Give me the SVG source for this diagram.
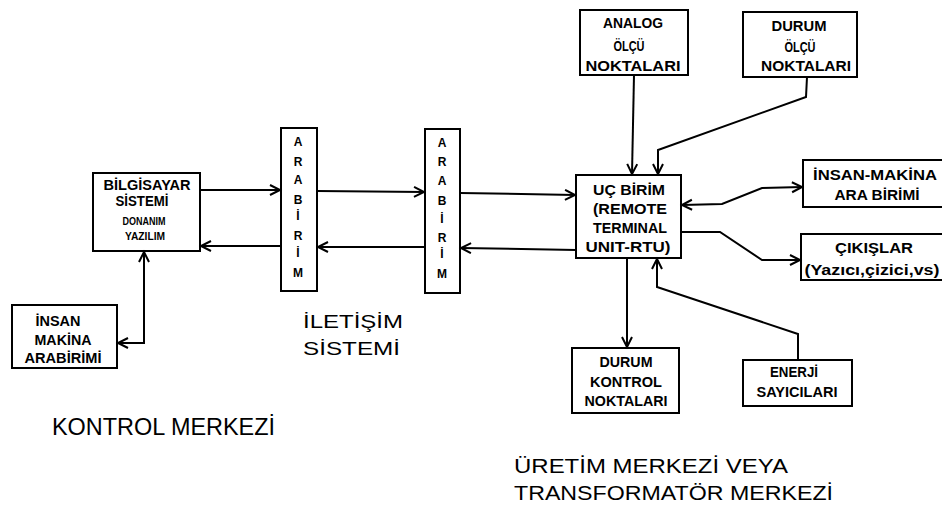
<svg xmlns="http://www.w3.org/2000/svg" width="942" height="511" viewBox="0 0 942 511">
<style>
.box{fill:#fff;stroke:#000;stroke-width:2}
.bt{font-family:"Liberation Sans",Arial,sans-serif;font-weight:bold;font-size:14px;fill:#000;text-anchor:middle}
.st{font-size:10px}
.lt{font-family:"Liberation Sans",Arial,sans-serif;font-weight:bold;font-size:12px;fill:#000;text-anchor:middle}
.big{font-family:"Liberation Sans",Arial,sans-serif;fill:#000}
.c{fill:none;stroke:#000;stroke-width:2}
</style>
<defs>
<marker id="ah" markerUnits="userSpaceOnUse" markerWidth="14" markerHeight="14" refX="11" refY="6" orient="auto-start-reverse">
<path d="M1,1 L11,6 L1,11" fill="none" stroke="#000" stroke-width="2"/>
</marker>
</defs>
<rect width="942" height="511" fill="#fff"/>

<g id="bilgisayar">
<rect class="box" x="93" y="173" width="107" height="78"/>
<text class="bt" x="147" y="190" textLength="87" lengthAdjust="spacingAndGlyphs">BİLGİSAYAR</text>
<text class="bt" x="142" y="206" textLength="53" lengthAdjust="spacingAndGlyphs">SİSTEMİ</text>
<text class="bt st" x="144" y="225" textLength="43" lengthAdjust="spacingAndGlyphs">DONANIM</text>
<text class="bt st" x="145" y="240" textLength="40" lengthAdjust="spacingAndGlyphs">YAZILIM</text>
</g>

<g id="insan-makina-kontrol">
<rect class="box" x="12" y="305" width="105" height="63"/>
<text class="bt" x="58" y="326" textLength="45" lengthAdjust="spacingAndGlyphs">İNSAN</text>
<text class="bt" x="63" y="345" textLength="57" lengthAdjust="spacingAndGlyphs">MAKİNA</text>
<text class="bt" x="63" y="363" textLength="77" lengthAdjust="spacingAndGlyphs">ARABİRİMİ</text>
</g>

<g id="arabirim1">
<rect class="box" x="281" y="128" width="36" height="163"/>
<text class="lt" x="298" y="146">A</text>
<text class="lt" x="298" y="166">R</text>
<text class="lt" x="298" y="184">A</text>
<text class="lt" x="298" y="204">B</text>
<text class="lt" x="298" y="220">İ</text>
<text class="lt" x="298" y="240">R</text>
<text class="lt" x="298" y="257">İ</text>
<text class="lt" x="298" y="277">M</text>
</g>

<g id="arabirim2">
<rect class="box" x="425" y="129" width="35" height="164"/>
<text class="lt" x="442" y="147">A</text>
<text class="lt" x="442" y="166">R</text>
<text class="lt" x="442" y="185">A</text>
<text class="lt" x="442" y="205">B</text>
<text class="lt" x="442" y="223">İ</text>
<text class="lt" x="442" y="242">R</text>
<text class="lt" x="442" y="258">İ</text>
<text class="lt" x="442" y="278">M</text>
</g>

<g id="rtu">
<rect class="box" x="576" y="175" width="105" height="83"/>
<text class="bt" x="629" y="195" textLength="72" lengthAdjust="spacingAndGlyphs">UÇ BİRİM</text>
<text class="bt" x="630" y="214" textLength="74" lengthAdjust="spacingAndGlyphs">(REMOTE</text>
<text class="bt" x="630" y="233" textLength="74" lengthAdjust="spacingAndGlyphs">TERMINAL</text>
<text class="bt" x="628" y="252" textLength="85" lengthAdjust="spacingAndGlyphs">UNIT-RTU)</text>
</g>

<g id="analog">
<rect class="box" x="580" y="10" width="108" height="65"/>
<text class="bt" x="633" y="28" textLength="60" lengthAdjust="spacingAndGlyphs">ANALOG</text>
<text class="bt" x="629" y="51" textLength="31" lengthAdjust="spacingAndGlyphs" style="font-size:15px">ÖLÇÜ</text>
<text class="bt" x="633" y="71" textLength="95" lengthAdjust="spacingAndGlyphs">NOKTALARI</text>
</g>

<g id="durum-olcu">
<rect class="box" x="743" y="12" width="114" height="65"/>
<text class="bt" x="799" y="31" textLength="55" lengthAdjust="spacingAndGlyphs">DURUM</text>
<text class="bt" x="800" y="52" textLength="31" lengthAdjust="spacingAndGlyphs" style="font-size:15px">ÖLÇÜ</text>
<text class="bt" x="806" y="71" textLength="90" lengthAdjust="spacingAndGlyphs">NOKTALARI</text>
</g>

<g id="insan-makina-rtu">
<rect class="box" x="803" y="160" width="150" height="47"/>
<text class="bt" x="875" y="180" textLength="124" lengthAdjust="spacingAndGlyphs">İNSAN-MAKİNA</text>
<text class="bt" x="877" y="200" textLength="85" lengthAdjust="spacingAndGlyphs">ARA BİRİMİ</text>
</g>

<g id="cikislar">
<rect class="box" x="801" y="234" width="152" height="46"/>
<text class="bt" x="874" y="253" textLength="78" lengthAdjust="spacingAndGlyphs">ÇIKIŞLAR</text>
<text class="bt" x="872" y="275" textLength="135" lengthAdjust="spacingAndGlyphs">(Yazıcı,çizici,vs)</text>
</g>

<g id="durum-kontrol">
<rect class="box" x="572" y="348" width="107" height="65"/>
<text class="bt" x="626" y="367" textLength="53" lengthAdjust="spacingAndGlyphs">DURUM</text>
<text class="bt" x="626" y="387" textLength="72" lengthAdjust="spacingAndGlyphs">KONTROL</text>
<text class="bt" x="626" y="406" textLength="83" lengthAdjust="spacingAndGlyphs">NOKTALARI</text>
</g>

<g id="enerji">
<rect class="box" x="743" y="360" width="109" height="46"/>
<text class="bt" x="794" y="377" textLength="48" lengthAdjust="spacingAndGlyphs">ENERJİ</text>
<text class="bt" x="797" y="397" textLength="81" lengthAdjust="spacingAndGlyphs">SAYICILARI</text>
</g>

<g id="connectors">
<path class="c" d="M200,190 L280,190" marker-end="url(#ah)"/>
<path class="c" d="M281,246 L201,246" marker-end="url(#ah)"/>
<path class="c" d="M144,252 L144,343 L118,343" marker-start="url(#ah)" marker-end="url(#ah)"/>
<path class="c" d="M317,191 L424,192" marker-end="url(#ah)"/>
<path class="c" d="M425,247 L318,247" marker-end="url(#ah)"/>
<path class="c" d="M460,193 L575,195" marker-end="url(#ah)"/>
<path class="c" d="M576,250 L461,248" marker-end="url(#ah)"/>
<path class="c" d="M634,75 L632,174" marker-end="url(#ah)"/>
<path class="c" d="M807,77 L806,97 L658,150 L658,174" marker-end="url(#ah)"/>
<path class="c" d="M682,205 L722,204 L762,188 L802,187" marker-start="url(#ah)" marker-end="url(#ah)"/>
<path class="c" d="M681,232 L720,232 L762,260 L800,260" marker-end="url(#ah)"/>
<path class="c" d="M627,258 L627,347" marker-end="url(#ah)"/>
<path class="c" d="M798,360 L798,334 L657,287 L657,259" marker-end="url(#ah)"/>
</g>

<g id="labels">
<text class="big" x="303" y="328" font-size="18" textLength="100" lengthAdjust="spacingAndGlyphs">İLETİŞİM</text>
<text class="big" x="303" y="355" font-size="18" textLength="97" lengthAdjust="spacingAndGlyphs">SİSTEMİ</text>
<text class="big" x="52" y="435" font-size="23" textLength="223" lengthAdjust="spacingAndGlyphs">KONTROL MERKEZİ</text>
<text class="big" x="514" y="473" font-size="21" textLength="274" lengthAdjust="spacingAndGlyphs">ÜRETİM MERKEZİ VEYA</text>
<text class="big" x="514" y="500" font-size="21" textLength="319" lengthAdjust="spacingAndGlyphs">TRANSFORMATÖR MERKEZİ</text>
</g>
</svg>
